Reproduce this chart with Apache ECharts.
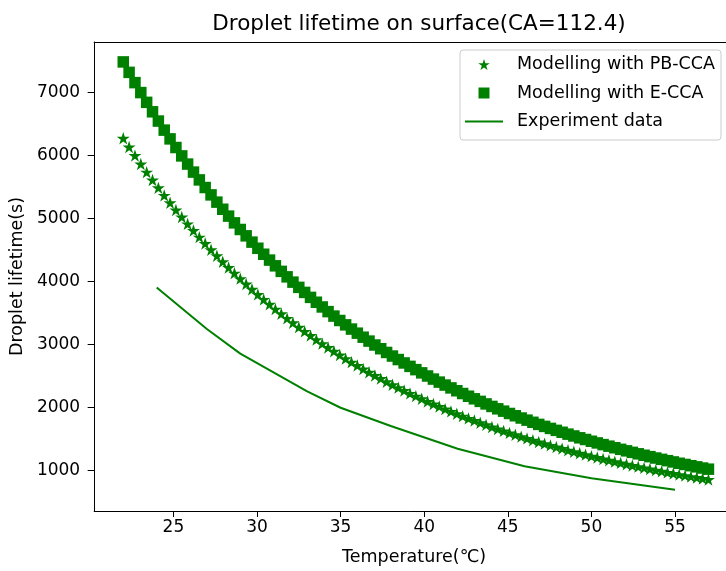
<!DOCTYPE html>
<html>
<head>
<meta charset="utf-8">
<script src="https://cdn.jsdelivr.net/npm/echarts@6/dist/echarts.min.js"></script>
<style>
  html, body { margin: 0; padding: 0; background: #fff; }
  #chart { width: 726px; height: 571px; }
</style>
</head>
<body>
<div id="chart"></div>
<script>
// Temperature (°C) of the modelled points
const temperature = [
  22, 22.35, 22.7, 23.05, 23.4, 23.75, 24.1, 24.45, 24.8, 25.15,
  25.5, 25.85, 26.2, 26.55, 26.9, 27.25, 27.6, 27.95, 28.3, 28.65,
  29, 29.35, 29.7, 30.05, 30.4, 30.75, 31.1, 31.45, 31.8, 32.15,
  32.5, 32.85, 33.2, 33.55, 33.9, 34.25, 34.6, 34.95, 35.3, 35.65,
  36, 36.35, 36.7, 37.05, 37.4, 37.75, 38.1, 38.45, 38.8, 39.15,
  39.5, 39.85, 40.2, 40.55, 40.9, 41.25, 41.6, 41.95, 42.3, 42.65,
  43, 43.35, 43.7, 44.05, 44.4, 44.75, 45.1, 45.45, 45.8, 46.15,
  46.5, 46.85, 47.2, 47.55, 47.9, 48.25, 48.6, 48.95, 49.3, 49.65,
  50, 50.35, 50.7, 51.05, 51.4, 51.75, 52.1, 52.45, 52.8, 53.15,
  53.5, 53.85, 54.2, 54.55, 54.9, 55.25, 55.6, 55.95, 56.3, 56.65,
  57
];

// Droplet lifetime (s), modelling with PB-CCA
const pbCca = [
  6268, 6129, 5993, 5860, 5730, 5605, 5481, 5361, 5244, 5129,
  5018, 4909, 4803, 4699, 4597, 4499, 4403, 4308, 4217, 4127,
  4039, 3955, 3871, 3789, 3710, 3632, 3556, 3482, 3409, 3339,
  3269, 3202, 3136, 3071, 3008, 2946, 2887, 2828, 2770, 2714,
  2660, 2606, 2554, 2502, 2453, 2403, 2356, 2309, 2263, 2218,
  2175, 2132, 2090, 2049, 2009, 1969, 1932, 1894, 1857, 1821,
  1787, 1752, 1719, 1685, 1653, 1622, 1591, 1561, 1531, 1503,
  1474, 1446, 1420, 1393, 1367, 1342, 1316, 1292, 1268, 1245,
  1222, 1200, 1177, 1156, 1135, 1115, 1094, 1074, 1055, 1036,
  1017, 999, 981, 964, 947, 929, 913, 897, 882, 866,
  851
];

// Droplet lifetime (s), modelling with E-CCA
const eCca = [
  7480, 7314, 7151, 6993, 6838, 6688, 6541, 6397, 6258, 6121,
  5988, 5858, 5731, 5607, 5486, 5369, 5254, 5141, 5032, 4925,
  4820, 4719, 4619, 4522, 4427, 4334, 4243, 4155, 4068, 3984,
  3901, 3821, 3742, 3665, 3590, 3516, 3445, 3375, 3306, 3239,
  3174, 3110, 3048, 2986, 2927, 2868, 2811, 2755, 2701, 2647,
  2595, 2544, 2494, 2445, 2397, 2350, 2305, 2260, 2216, 2173,
  2132, 2091, 2051, 2011, 1973, 1936, 1899, 1863, 1827, 1793,
  1759, 1726, 1694, 1662, 1631, 1601, 1571, 1542, 1513, 1486,
  1458, 1432, 1405, 1380, 1355, 1330, 1306, 1282, 1259, 1236,
  1214, 1192, 1171, 1150, 1130, 1109, 1090, 1070, 1052, 1033,
  1015
];

// Measured lifetimes
const expTemperature = [24, 27, 29, 33, 35, 38, 42, 46, 50, 55];
const expLifetime = [3900, 3240, 2850, 2250, 1990, 1700, 1340, 1060, 870, 690];

// Tick labels
const xTicks = [25, 30, 35, 40, 45, 50, 55];
const yTicks = [1000, 2000, 3000, 4000, 5000, 6000, 7000];

const seriesNames = ['Modelling with PB-CCA', 'Modelling with E-CCA', 'Experiment data'];

const GREEN = '#008000';
const FONT = 'DejaVu Sans';
const STAR = 'path://M0,-1L0.2245,-0.309L0.951,-0.309L0.363,0.118L0.588,0.809L0,0.382L-0.588,0.809L-0.363,0.118L-0.951,-0.309L-0.2245,-0.309Z';
const SQUARE = 'path://M0,0H1V1H0Z';
const LINE_ICON = 'path://M0,0H38V2H0Z';

const zip = (xs, ys) => xs.map((x, i) => [x, ys[i]]);

const X_MIN = 20.26, X_MAX = 58.05;
const Y_MIN = 351, Y_MAX = 7796;

const chart = echarts.init(document.getElementById('chart'), null, { renderer: 'canvas' });

chart.setOption({
  animation: false,
  backgroundColor: '#ffffff',
  title: {
    text: 'Droplet lifetime on surface(CA=112.4)',
    left: 414,
    top: 8,
    textAlign: 'center',
    textStyle: { fontFamily: FONT, fontSize: 21.5, fontWeight: 'normal', color: '#000' }
  },
  grid: { left: 94, right: 0, top: 42, height: 470, containLabel: false },
  legend: {
    orient: 'vertical',
    left: 460,
    top: 50,
    padding: [5.5, 6, 9.5, 5],
    itemWidth: 38,
    itemHeight: 11,
    itemGap: 10.5,
    symbolKeepAspect: true,
    backgroundColor: 'rgba(255,255,255,0.8)',
    borderColor: '#cccccc',
    borderWidth: 1,
    borderRadius: 3,
    textStyle: { fontFamily: FONT, fontSize: 17.5, color: '#000', padding: [0, 0, 0, 9] },
    data: [
      { name: seriesNames[0], icon: STAR },
      { name: seriesNames[1], icon: SQUARE },
      { name: seriesNames[2], icon: LINE_ICON }
    ]
  },
  xAxis: [
    {
      type: 'value',
      min: X_MIN,
      max: X_MAX,
      name: 'Temperature(℃)',
      nameLocation: 'middle',
      nameGap: 37,
      nameTextStyle: { fontFamily: FONT, fontSize: 17.5, color: '#000', padding: [0, 0, 0, 8] },
      axisLine: { lineStyle: { color: '#000', width: 1 } },
      axisTick: { customValues: xTicks, length: 6, lineStyle: { color: '#000', width: 1 } },
      axisLabel: {
        customValues: xTicks, fontFamily: FONT, fontSize: 17, color: '#000', margin: 8,
        formatter: v => String(v)
      },
      splitLine: { show: false }
    },
    {
      type: 'value',
      position: 'top',
      min: X_MIN,
      max: X_MAX,
      axisLine: { show: true, lineStyle: { color: '#000', width: 1 } },
      axisTick: { show: false },
      axisLabel: { show: false },
      splitLine: { show: false }
    }
  ],
  yAxis: {
    type: 'value',
    min: Y_MIN,
    max: Y_MAX,
    name: 'Droplet lifetime(s)',
    nameLocation: 'middle',
    nameGap: 66,
    nameTextStyle: { fontFamily: FONT, fontSize: 17.5, color: '#000' },
    axisLine: { show: true, lineStyle: { color: '#000', width: 1 } },
    axisTick: { show: true, customValues: yTicks, length: 6.5, lineStyle: { color: '#000', width: 1 } },
    axisLabel: {
      customValues: yTicks, fontFamily: FONT, fontSize: 17, color: '#000', margin: 14,
      formatter: v => String(v)
    },
    splitLine: { show: false }
  },
  series: [
    {
      name: seriesNames[0],
      type: 'scatter',
      data: zip(temperature, pbCca),
      symbol: STAR,
      symbolKeepAspect: true,
      symbolSize: 13,
      itemStyle: { color: GREEN, opacity: 1 },
      z: 2
    },
    {
      name: seriesNames[1],
      type: 'scatter',
      data: zip(temperature, eCca),
      symbol: 'rect',
      symbolSize: 11.5,
      itemStyle: { color: GREEN, opacity: 1 },
      z: 3
    },
    {
      name: seriesNames[2],
      type: 'line',
      data: zip(expTemperature, expLifetime),
      symbol: 'none',
      showSymbol: false,
      lineStyle: { color: GREEN, width: 2 },
      itemStyle: { color: GREEN },
      z: 4
    }
  ]
});
</script>
</body>
</html>
